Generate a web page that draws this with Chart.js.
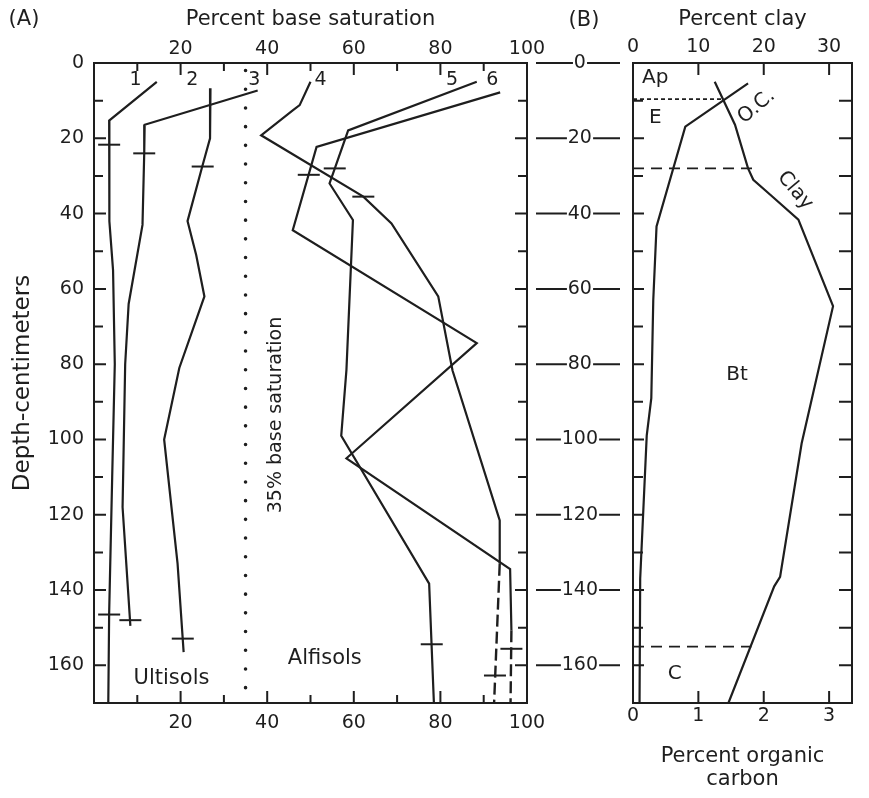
<!DOCTYPE html>
<html>
<head>
<meta charset="utf-8">
<script src="https://cdn.jsdelivr.net/npm/chart.js@4.4.1/dist/chart.umd.min.js"></script>
<style>
  html, body { margin: 0; padding: 0; background: #fff; }
  #wrap { position: relative; width: 869px; height: 798px; }
  canvas { position: absolute; top: 0; }
  #chartA { left: 0; }
  #chartB { left: 530px; }
</style>
</head>
<body>
<div id="wrap">
  <canvas id="chartA" width="550" height="798"></canvas>
  <canvas id="chartB" width="339" height="798"></canvas>
</div>
<script>
// (A) base saturation profiles, [percent, depth cm]
const depthTicks = [0, 20, 40, 60, 80, 100, 120, 140, 160];
const satTicks = [20, 40, 60, 80, 100];

const profile1 = [[14.5, 5], [3.5, 15.3], [3.5, 22], [3.6, 42], [4.4, 55], [4.8, 80], [4.2, 110], [3.5, 146], [3.3, 170]];
const profile2 = [[26.9, 6.7], [26.8, 20], [25, 27.5], [21.6, 42], [23.6, 51], [25.5, 62], [19.7, 81], [16.2, 100], [19.3, 133], [20.7, 156.5]];
const profile3 = [[37.8, 7.3], [11.7, 16.4], [11.6, 24], [11.2, 43], [8, 64], [7.2, 80], [6.6, 118], [8.4, 149.5]];
const profile4 = [[50, 5], [47.5, 11.2], [45.9, 12.6], [38.6, 19.2], [62.2, 35.5], [68.7, 42.6], [79.5, 62], [82.8, 81.7], [93.7, 121.5], [93.7, 133]];
const profile4Dashed = [[93.7, 133], [92.4, 170]];
const profile5 = [[88.4, 5], [58.7, 17.9], [54.4, 32], [59.8, 41.7], [58.3, 81.5], [57.1, 99], [77.4, 138.3], [78.5, 170]];
const profile6 = [[93.8, 7.8], [51.4, 22.3], [45.9, 44.4], [88.4, 74.4], [58.3, 105], [96.1, 134.4], [96.4, 150.7]];
const profile6Dashed = [[96.4, 150.7], [96.2, 170]];
const horizonMarks = [[3.5, 21.7], [11.6, 24], [25.1, 27.5], [49.6, 29.7], [55.6, 28], [62.2, 35.5],
                      [3.5, 146.5], [8.4, 148], [20.5, 152.9], [78, 154.4], [92.6, 162.7], [96.4, 155.6]];
const baseSatLimit = 35;
const profileNames = ['1', '2', '3', '4', '5', '6'];

// (B) one Alfisol profile: clay % and organic carbon %
const clayTicks = [0, 10, 20, 30];
const carbonTicks = [0, 1, 2, 3];
const clayPct = [[12.5, 5], [15.6, 16.4], [17.6, 28], [18.4, 31], [21, 35], [25.3, 41.6], [30.6, 64.6], [25.8, 101], [22.5, 136.5], [21.6, 139], [14.6, 170]];
const organicC = [[1.76, 5.4], [0.8, 16.9], [0.36, 43.4], [0.31, 63], [0.28, 89], [0.21, 99], [0.11, 137], [0.1, 170]];
const horizonNames = ['Ap', 'E', 'Bt', 'C'];
const horizonDepths = [9.6, 28, 155];
const horizonReach = [13.7, 18.3, 18.1];

const INK = '#1e1e1e';
const FONT = '"DejaVu Sans", sans-serif';
Chart.defaults.font.family = FONT;
Chart.defaults.color = INK;

const pts = arr => arr.map(p => ({x: p[0], y: p[1]}));
const line = (arr, extra) => Object.assign({
  data: pts(arr), showLine: true, borderColor: INK, backgroundColor: INK,
  borderWidth: 2.2, pointRadius: 0, tension: 0
}, extra || {});
const useTicks = list => s => { s.ticks = list.map(v => ({value: v})); };
// fixed axis box, and no extra room asked for the end labels
const fixH = h => s => { s.height = h; s.paddingLeft = 0; s.paddingRight = 0; };
const fixW = w => s => { s.width = w; s.paddingTop = 0; s.paddingBottom = 0; };

// frame round the plot plus inward tick marks
const frameTicks = {
  id: 'frameTicks',
  afterDatasetsDraw(chart, args, o) {
    const {ctx, chartArea: a} = chart;
    ctx.save();
    ctx.strokeStyle = INK;
    ctx.lineWidth = 2;
    ctx.strokeRect(a.left, a.top, a.right - a.left, a.bottom - a.top);
    ctx.beginPath();
    o.marks.forEach(m => {
      const s = chart.scales[m.scale];
      for (let v = m.from; v <= m.to + 1e-9; v += m.step) {
        const p = s.getPixelForValue(v);
        const r = v / m.major;
        const len = Math.abs(r - Math.round(r)) < 1e-6 ? m.long : m.short;
        m.sides.forEach(side => {
          if (side === 'left') { ctx.moveTo(a.left, p); ctx.lineTo(a.left + len, p); }
          if (side === 'right') { ctx.moveTo(a.right, p); ctx.lineTo(a.right - len, p); }
          if (side === 'top') { ctx.moveTo(p, a.top); ctx.lineTo(p, a.top + len); }
          if (side === 'bottom') { ctx.moveTo(p, a.bottom); ctx.lineTo(p, a.bottom - len); }
        });
      }
    });
    ctx.stroke();
    ctx.restore();
  }
};

// free text placed in data units (or canvas px for the panel letters)
const notes = {
  id: 'notes',
  afterDraw(chart, args, o) {
    const {ctx} = chart;
    ctx.save();
    ctx.fillStyle = INK;
    ctx.textAlign = 'center';
    ctx.textBaseline = 'middle';
    o.items.forEach(n => {
      const px = n.px != null ? n.px : chart.scales[n.xAxis || 'x'].getPixelForValue(n.x);
      const py = n.py != null ? n.py : chart.scales.y.getPixelForValue(n.y);
      ctx.font = (n.size || 20) + 'px ' + FONT;
      ctx.save();
      ctx.translate(px, py);
      ctx.rotate((n.rot || 0) * Math.PI / 180);
      ctx.fillText(n.text, 0, 0);
      ctx.restore();
    });
    ctx.restore();
  }
};

// the "—20—" style depth labels between the panels
const depthDashes = {
  id: 'depthDashes',
  afterDraw(chart, args, o) {
    const {ctx} = chart;
    const s = chart.scales.y;
    ctx.save();
    ctx.strokeStyle = INK;
    ctx.lineWidth = 2;
    ctx.font = '19px ' + FONT;
    ctx.beginPath();
    s.ticks.forEach(t => {
      const y = s.getPixelForValue(t.value);
      const w = ctx.measureText(String(t.value)).width;
      ctx.moveTo(o.from, y); ctx.lineTo(o.center - w / 2 - 1, y);
      ctx.moveTo(o.center + w / 2 + 1, y); ctx.lineTo(o.to, y);
    });
    ctx.stroke();
    ctx.restore();
  }
};

const noGrid = {display: false, drawTicks: false};

new Chart(document.getElementById('chartA'), {
  type: 'scatter',
  data: {
    datasets: [
      line(profile1), line(profile2), line(profile3),
      line(profile4), line(profile5), line(profile6),
      line(profile4Dashed, {borderDash: [12, 5], borderWidth: 2.4}),
      line(profile6Dashed, {borderDash: [12, 5], borderWidth: 2.4}),
      {
        data: pts(horizonMarks), showLine: false, pointStyle: 'line',
        pointRadius: 11, pointBorderWidth: 2, borderColor: INK, backgroundColor: INK
      },
      line([[baseSatLimit, 2], [baseSatLimit, 168]], {borderDash: [0, 18.7], borderCapStyle: 'round', borderWidth: 3.6})
    ]
  },
  options: {
    responsive: false,
    animation: false,
    layout: {autoPadding: false, padding: {right: 23}},
    plugins: {
      legend: {display: false},
      tooltip: {enabled: false},
      frameTicks: {
        marks: [
          {scale: 'y', from: 10, to: 160, step: 10, major: 20, long: 12, short: 9, sides: ['left', 'right']},
          {scale: 'x', from: 10, to: 90, step: 10, major: 20, long: 12, short: 8, sides: ['top', 'bottom']}
        ]
      },
      notes: {
        items: [
          {text: '(A)', px: 24, py: 20, size: 21},
          {text: profileNames[0], x: 9.6, y: 4.5, size: 19},
          {text: profileNames[1], x: 22.7, y: 4.5, size: 19},
          {text: profileNames[2], x: 37, y: 4.5, size: 19},
          {text: profileNames[3], x: 52.3, y: 4.5, size: 19},
          {text: profileNames[4], x: 82.7, y: 4.5, size: 19},
          {text: profileNames[5], x: 92, y: 4.5, size: 19},
          {text: '35% base saturation', x: 42.1, y: 93.5, rot: -90, size: 19},
          {text: 'Ultisols', x: 17.9, y: 163.5, size: 21},
          {text: 'Alfisols', x: 53.3, y: 158.3, size: 21}
        ]
      }
    },
    scales: {
      x: {
        type: 'linear', position: 'top', min: 0, max: 100,
        afterBuildTicks: useTicks(satTicks),
        afterFit: fixH(63),
        grid: noGrid, border: {display: false},
        ticks: {padding: 3, maxRotation: 0, autoSkip: false, font: {size: 19}},
        title: {display: true, text: 'Percent base saturation', font: {size: 21}, padding: {top: 7.4, bottom: 0}}
      },
      x2: {
        type: 'linear', axis: 'x', position: 'bottom', min: 0, max: 100,
        afterBuildTicks: useTicks(satTicks),
        afterFit: fixH(95),
        grid: noGrid, border: {display: false},
        ticks: {padding: 8.6, maxRotation: 0, autoSkip: false, font: {size: 19}}
      },
      y: {
        type: 'linear', position: 'left', reverse: true, min: 0, max: 170,
        afterBuildTicks: useTicks(depthTicks),
        afterFit: fixW(94),
        grid: noGrid, border: {display: false},
        ticks: {padding: 10, autoSkip: false, font: {size: 19}},
        title: {display: true, text: 'Depth-centimeters', font: {size: 23}, padding: {top: 9, bottom: 0}}
      }
    }
  },
  plugins: [frameTicks, notes]
});

const horizonLines = horizonDepths.map((d, i) => line([[0, d], [horizonReach[i], d]], {
  borderDash: i === 0 ? [4, 3] : [11, 7],
  borderWidth: i === 0 ? 1.6 : 1.8
}));

new Chart(document.getElementById('chartB'), {
  type: 'scatter',
  data: {
    datasets: [
      line(clayPct, {xAxisID: 'x'}),
      line(organicC, {xAxisID: 'x2'}),
      ...horizonLines
    ]
  },
  options: {
    responsive: false,
    animation: false,
    layout: {autoPadding: false, padding: {right: 17}},
    plugins: {
      legend: {display: false},
      tooltip: {enabled: false},
      frameTicks: {
        marks: [
          {scale: 'y', from: 10, to: 160, step: 10, major: 20, long: 11, short: 10, sides: ['left']},
          {scale: 'y', from: 10, to: 160, step: 10, major: 20, long: 13, short: 13, sides: ['right']},
          {scale: 'x', from: 10, to: 30, step: 10, major: 10, long: 12, short: 12, sides: ['top']},
          {scale: 'x2', from: 1, to: 3, step: 1, major: 1, long: 12, short: 12, sides: ['bottom']}
        ]
      },
      depthDashes: {from: 6, center: 50, to: 90},
      notes: {
        items: [
          {text: '(B)', px: 54, py: 20.5, size: 21},
          {text: horizonNames[0], x: 3.4, y: 4, size: 20},
          {text: horizonNames[1], x: 3.4, y: 14.6, size: 20},
          {text: horizonNames[2], x: 15.9, y: 82.8, size: 20},
          {text: horizonNames[3], x: 6.4, y: 162.3, size: 20},
          {text: 'O.C.', x: 18.9, y: 11.6, rot: -40, size: 20},
          {text: 'Clay', x: 24.8, y: 33.9, rot: 50, size: 20}
        ]
      }
    },
    scales: {
      x: {
        type: 'linear', position: 'top', min: 0, max: 33.5,
        afterBuildTicks: useTicks(clayTicks),
        afterFit: fixH(63),
        grid: noGrid, border: {display: false},
        ticks: {padding: 5, maxRotation: 0, autoSkip: false, font: {size: 19}},
        title: {display: true, text: 'Percent clay', font: {size: 21}, padding: {top: 7.4, bottom: 0}}
      },
      x2: {
        type: 'linear', axis: 'x', position: 'bottom', min: 0, max: 3.35,
        afterBuildTicks: useTicks(carbonTicks),
        afterFit: fixH(95),
        grid: noGrid, border: {display: false},
        ticks: {padding: 1.5, maxRotation: 0, autoSkip: false, font: {size: 19}},
        title: {display: true, text: ['Percent organic', 'carbon'], font: {size: 21, lineHeight: 1.1}, padding: {top: 0, bottom: 6.6}}
      },
      y: {
        type: 'linear', position: 'left', reverse: true, min: 0, max: 170,
        afterBuildTicks: useTicks(depthTicks),
        afterFit: fixW(103),
        grid: noGrid, border: {display: false},
        ticks: {padding: 35, crossAlign: 'center', autoSkip: false, font: {size: 19}}
      }
    }
  },
  plugins: [frameTicks, notes, depthDashes]
});
</script>
</body>
</html>
